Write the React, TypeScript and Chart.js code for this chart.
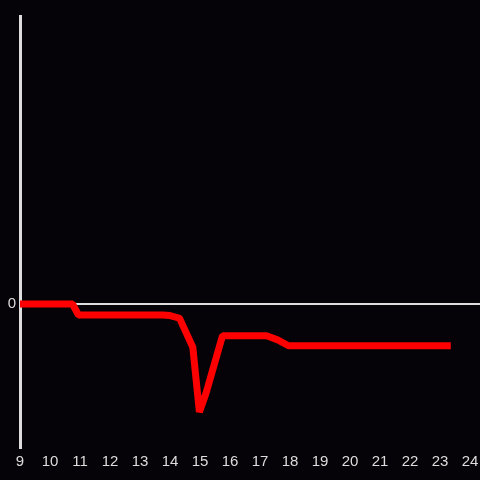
import React, { useEffect, useRef } from "react";
import { Chart, registerables } from "chart.js";

Chart.register(...registerables);

const hours = [9, 10.75, 10.95, 13.75, 14.0, 14.2, 14.32, 14.76, 14.98, 15.2, 15.75, 17.22, 17.6, 17.95, 23.36];
const values = [0, 0, -0.076, -0.076, -0.08, -0.092, -0.1, -0.3, -0.75, -0.62, -0.22, -0.22, -0.25, -0.29, -0.29];
const xTickLabels = [9, 10, 11, 12, 13, 14, 15, 16, 17, 18, 19, 20, 21, 22, 23, 24];
const yTickLabels = [0];

const BG = "#050307";
const AXIS = "#dddddd";
const FONT = "'Liberation Sans', Arial, sans-serif";

export default function App() {
  const ref = useRef<HTMLCanvasElement | null>(null);

  useEffect(() => {
    document.body.style.margin = "0";
    document.body.style.background = BG;
    const canvas = ref.current;
    if (!canvas) return;
    const bgPlugin = {
      id: "bg",
      beforeDraw(chart: any) {
        const ctx = chart.ctx;
        ctx.save();
        ctx.fillStyle = BG;
        ctx.fillRect(0, 0, chart.width, chart.height);
        ctx.restore();
      },
    };
    const chart = new Chart(canvas, {
      type: "line",
      data: {
        datasets: [
          {
            data: hours.map((h, i) => ({ x: h, y: values[i] })),
            borderColor: "#ff0000",
            backgroundColor: "#ff0000",
            borderWidth: 7,
            borderJoinStyle: "bevel",
            borderCapStyle: "butt",
            pointRadius: 0,
            tension: 0,
            fill: false,
          },
        ],
      },
      options: {
        animation: false,
        responsive: false,
        maintainAspectRatio: false,
        layout: { padding: { top: 16, right: 0, left: 0, bottom: 0 } },
        plugins: { legend: { display: false }, tooltip: { enabled: false } },
        scales: {
          x: {
            type: "linear",
            min: 9,
            max: 9 + 460 / 30,
            afterBuildTicks: (scale: any) => {
              scale.ticks = xTickLabels.map((v) => ({ value: v }));
            },
            afterFit: (scale: any) => {
              scale.height = 32;
              scale.paddingLeft = 0;
              scale.paddingRight = 0;
            },
            grid: { display: false, drawTicks: false },
            border: { display: false },
            ticks: {
              color: AXIS,
              font: { family: FONT, size: 15 },
              padding: 5,
              maxRotation: 0,
              autoSkip: false,
            },
          },
          y: {
            type: "linear",
            min: -1,
            max: 2,
            afterBuildTicks: (scale: any) => {
              scale.ticks = yTickLabels.map((v) => ({ value: v }));
            },
            afterFit: (scale: any) => {
              scale.width = 20;
              scale.paddingTop = 0;
              scale.paddingBottom = 0;
            },
            grid: { color: AXIS, lineWidth: 2, drawTicks: false },
            border: { display: true, color: AXIS, width: 3 },
            ticks: {
              color: AXIS,
              font: { family: FONT, size: 15 },
              padding: 4,
            },
          },
        },
      },
      plugins: [bgPlugin],
    } as any);
    return () => chart.destroy();
  }, []);

  return (
    <div style={{ width: 480, height: 480, background: BG }}>
      <canvas ref={ref} width={480} height={480} style={{ display: "block" }} />
    </div>
  );
}
